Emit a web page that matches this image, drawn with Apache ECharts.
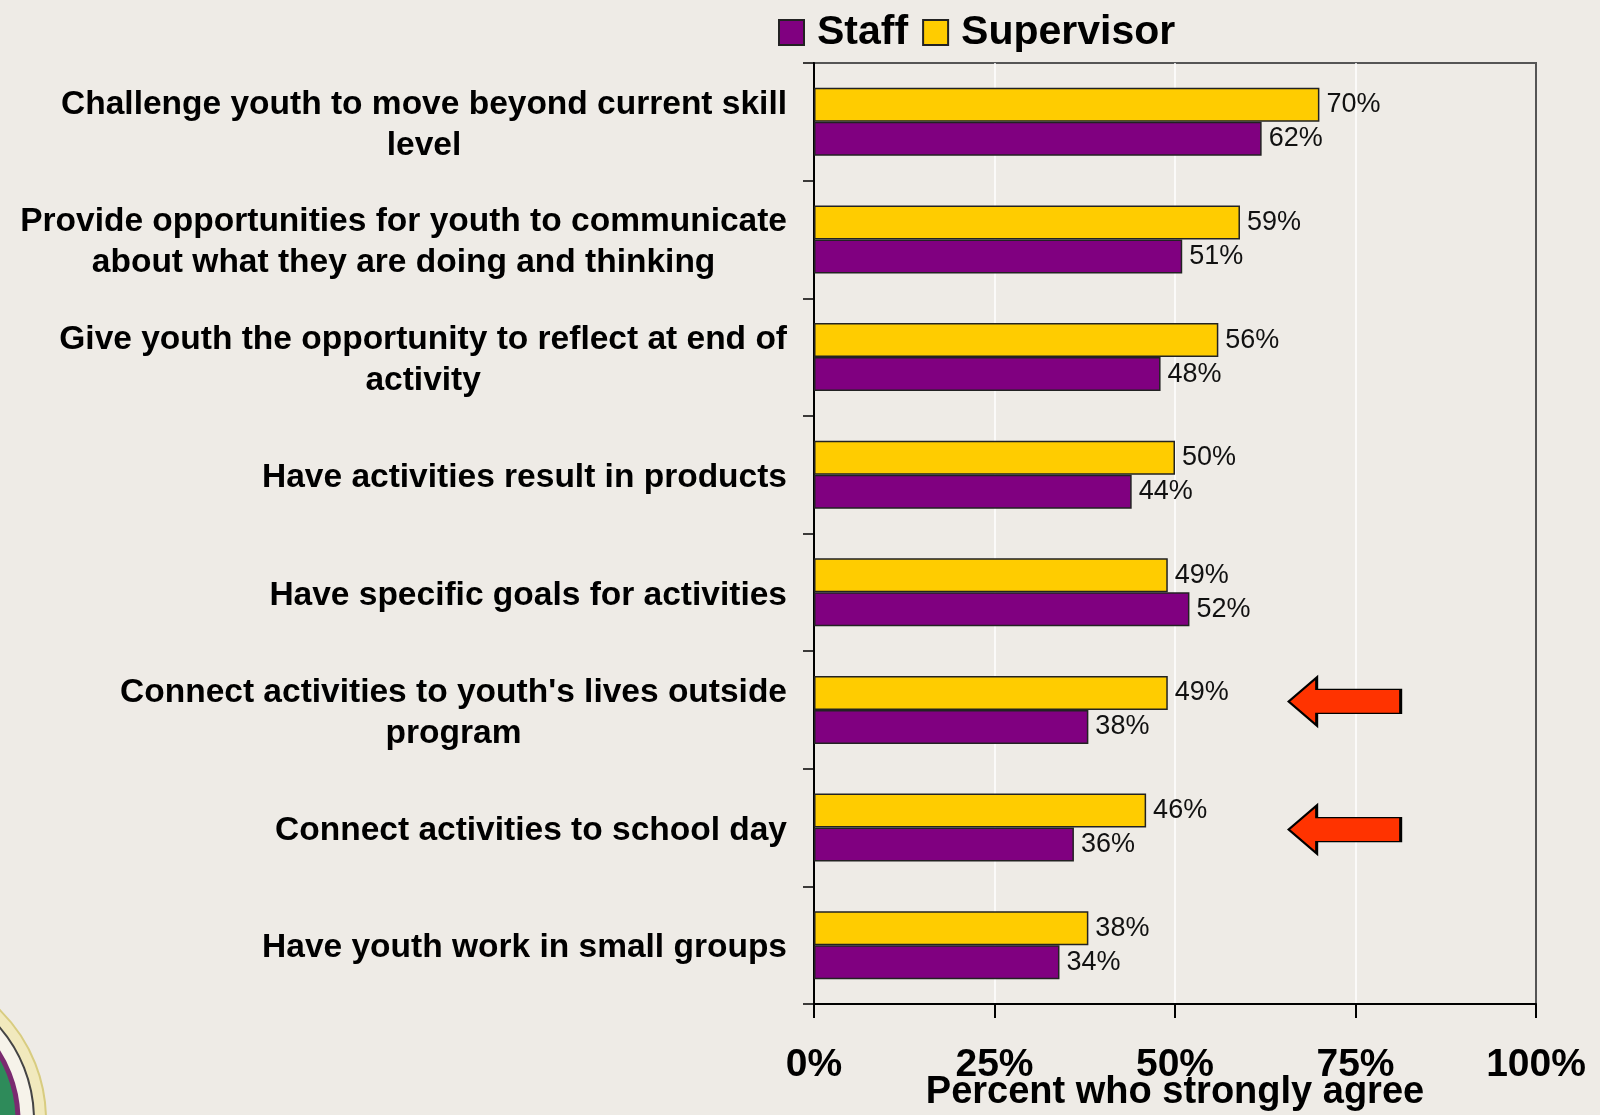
<!DOCTYPE html>
<html>
<head>
<meta charset="utf-8">
<script src="https://cdn.jsdelivr.net/npm/echarts@6/dist/echarts.min.js"></script>
<style>
html,body{margin:0;padding:0;background:#eeebe6;}
#c{width:1600px;height:1115px;}
</style>
</head>
<body>
<div id="c"></div>
<script>
const categories = [
  "Challenge youth to move beyond current skill\nlevel",
  "Provide opportunities for youth to communicate\nabout what they are doing and thinking",
  "Give youth the opportunity to reflect at end of\nactivity",
  "Have activities result in products",
  "Have specific goals for activities",
  "Connect activities to youth's lives outside\nprogram",
  "Connect activities to school day",
  "Have youth work in small groups"
];
const supervisor = [70, 59, 56, 50, 49, 49, 46, 38];
const staff = [62, 51, 48, 44, 52, 38, 36, 34];
const xTicks = [0, 25, 50, 75, 100];
const arrowRows = [5, 6];
const arrowX = 73.5;

const chart = echarts.init(document.getElementById('c'));
const arrowPath = 'path://M0,24 L28,0 L28,12 L112,12 L112,36 L28,36 L28,48 Z';
const labelFont = 'Liberation Sans, Arial, sans-serif';

chart.setOption({
  backgroundColor: '#eeebe6',
  animation: false,
  legend: {
    data: ['Staff', 'Supervisor'],
    icon: 'rect',
    left: 773,
    top: 7,
    itemWidth: 25,
    itemHeight: 25,
    itemGap: 14,
    textStyle: { fontFamily: labelFont, fontWeight: 'bold', fontSize: 41, color: '#000', padding: [0, 0, 0, 8] }
  },
  grid: {
    left: 814, right: 64, top: 63, bottom: 111,
    outerBoundsMode: 'none',
    containLabel: false,
    show: true, borderColor: '#555', borderWidth: 2, backgroundColor: 'transparent'
  },
  xAxis: {
    type: 'value', min: 0, max: 100, interval: 25,
    axisLine: { show: true, lineStyle: { color: '#000', width: 2 } },
    axisTick: { show: true, length: 14, lineStyle: { color: '#000', width: 2 } },
    axisLabel: {
      margin: 42, fontFamily: labelFont, fontWeight: 'bold', fontSize: 39, color: '#000',
      formatter: v => v + '%'
    },
    splitLine: { show: true, lineStyle: { color: ['rgba(0,0,0,0)', '#fff', '#fff', '#fff', 'rgba(0,0,0,0)'], width: 1.5 } },
    name: 'Percent who strongly agree',
    nameLocation: 'middle',
    nameGap: 70,
    nameMoveOverlap: false,
    nameTextStyle: { fontFamily: labelFont, fontWeight: 'bold', fontSize: 38, color: '#000', verticalAlign: 'top', lineHeight: 38 }
  },
  yAxis: {
    type: 'category', inverse: true, data: categories,
    axisLine: { show: true, lineStyle: { color: '#000', width: 2 } },
    axisTick: { show: true, length: 11, lineStyle: { color: '#000', width: 1.5 } },
    axisLabel: {
      margin: 27, fontFamily: labelFont, fontWeight: 'bold', fontSize: 33.5, color: '#000',
      lineHeight: 41, align: 'right', padding: [6, 0, 0, 0],
      formatter: v => v.split('\n').map(s => '{c|' + s + '}').join('\n'),
      rich: { c: { align: 'center', fontFamily: labelFont, fontWeight: 'bold', fontSize: 33.5, lineHeight: 41, color: '#000' } }
    },
    splitLine: { show: false }
  },
  series: [
    {
      name: 'Supervisor', type: 'bar', data: supervisor,
      barWidth: 34, barGap: '0%',
      itemStyle: { color: '#ffcc00', borderColor: '#222', borderWidth: 1.5 },
      label: { show: true, position: 'right', distance: 7, formatter: '{c}%', fontFamily: labelFont, fontSize: 27, color: '#111' },
      markPoint: {
        symbol: arrowPath,
        symbolSize: [112, 48],
        itemStyle: { color: '#ff3300', borderColor: '#000', borderWidth: 2 },
        label: { show: false },
        data: [
          { coord: [arrowX, categories[arrowRows[0]]], symbolOffset: [0, 8.5] },
          { coord: [arrowX, categories[arrowRows[1]]], symbolOffset: [0, 19] }
        ]
      }
    },
    {
      name: 'Staff', type: 'bar', data: staff,
      barWidth: 34, barGap: '0%',
      itemStyle: { color: '#800080', borderColor: '#222', borderWidth: 1.5 },
      label: { show: true, position: 'right', distance: 7, formatter: '{c}%', fontFamily: labelFont, fontSize: 27, color: '#111' }
    }
  ],
  graphic: [
    {
      type: 'group', x: -108, y: 1120, silent: true,
      children: [
        { type: 'circle', shape: { cx: 0, cy: 0, r: 154 }, style: { fill: '#f1e9bd', stroke: '#d8cc80', lineWidth: 2 } },
        { type: 'circle', shape: { cx: 0, cy: 0, r: 142 }, style: { fill: '#f6f3ea', stroke: '#444', lineWidth: 2 } },
        { type: 'circle', shape: { cx: 0, cy: 0, r: 126 }, style: { fill: '#2e8b5a', stroke: '#7a2a70', lineWidth: 5 } }
      ]
    }
  ]
});
</script>
</body>
</html>
